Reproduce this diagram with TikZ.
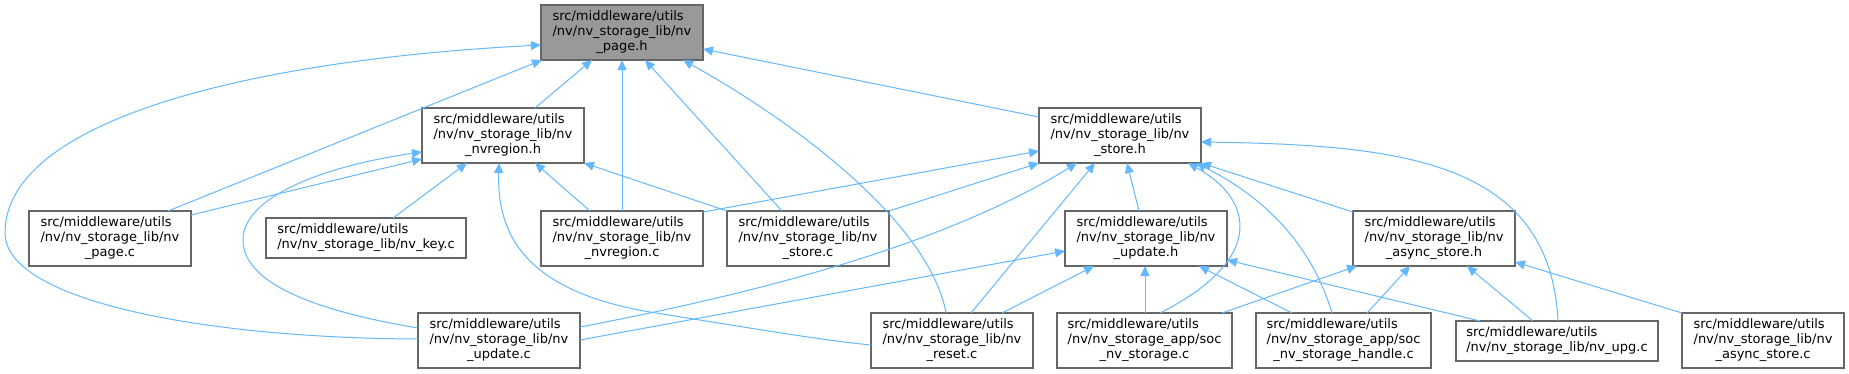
\documentclass[tikz,border=0pt]{standalone}
\usepackage{fontspec}
\setmainfont{DejaVu Sans}
\usetikzlibrary{calc,arrows.meta}
\definecolor{edgec}{HTML}{63B8FF}
\definecolor{boxc}{HTML}{666666}
\definecolor{topc}{HTML}{999999}
\newcommand{\lblthree}[3]{\begin{tabular}{@{}l@{}}#1\\#2\\\multicolumn{1}{@{}c@{}}{#3}\end{tabular}}
\newcommand{\lbltwo}[2]{\begin{tabular}{@{}l@{}}#1\\#2\end{tabular}}
\begin{document}
\begin{tikzpicture}[x=1pt,y=-1pt,
  box/.style={draw=boxc, line width=1.2pt, fill=white, inner sep=0pt, outer sep=0pt,
    minimum width=162pt, minimum height=55pt, font=\fontsize{13}{15}\selectfont, text=black},
  twoline/.style={minimum height=40pt},
  edge/.style={draw=edgec, line width=1pt, -{Triangle[length=10pt,width=9pt]}}]
\useasboundingbox (0,0) rectangle (1849,373);

% row 0
\node[box, fill=topc] (A) at (622,32.5) {\lblthree{src/middleware/utils}{/nv/nv\_storage\_lib/nv}{\_page.h}};
% row 1
\node[box] (B) at (503,135.5) {\lblthree{src/middleware/utils}{/nv/nv\_storage\_lib/nv}{\_nvregion.h}};
\node[box] (C) at (1120,135.5) {\lblthree{src/middleware/utils}{/nv/nv\_storage\_lib/nv}{\_store.h}};
% row 2
\node[box] (D) at (110,238.5) {\lblthree{src/middleware/utils}{/nv/nv\_storage\_lib/nv}{\_page.c}};
\node[box, twoline, minimum width=200pt] (E) at (366,238) {\lbltwo{src/middleware/utils}{/nv/nv\_storage\_lib/nv\_key.c}};
\node[box] (F) at (622,238.5) {\lblthree{src/middleware/utils}{/nv/nv\_storage\_lib/nv}{\_nvregion.c}};
\node[box] (G) at (808,238.5) {\lblthree{src/middleware/utils}{/nv/nv\_storage\_lib/nv}{\_store.c}};
\node[box] (H) at (1146,238.5) {\lblthree{src/middleware/utils}{/nv/nv\_storage\_lib/nv}{\_update.h}};
\node[box] (I) at (1434,238.5) {\lblthree{src/middleware/utils}{/nv/nv\_storage\_lib/nv}{\_async\_store.h}};
% row 3
\node[box] (J) at (499,340.5) {\lblthree{src/middleware/utils}{/nv/nv\_storage\_lib/nv}{\_update.c}};
\node[box] (K) at (952,340.5) {\lblthree{src/middleware/utils}{/nv/nv\_storage\_lib/nv}{\_reset.c}};
\node[box, minimum width=175pt] (L) at (1144.5,340.5) {\lblthree{src/middleware/utils}{/nv/nv\_storage\_app/soc}{\_nv\_storage.c}};
\node[box, minimum width=175pt] (M) at (1343.5,340.5) {\lblthree{src/middleware/utils}{/nv/nv\_storage\_app/soc}{\_nv\_storage\_handle.c}};
\node[box, twoline, minimum width=202pt] (N) at (1557,341) {\lbltwo{src/middleware/utils}{/nv/nv\_storage\_lib/nv\_upg.c}};
\node[box] (O) at (1763,340.5) {\lblthree{src/middleware/utils}{/nv/nv\_storage\_lib/nv}{\_async\_store.c}};

% edges into A
\draw[edge] ($(B.north west)+(113,0)$) -- ($(A.south west)+(51,0)$);
\draw[edge] (F.north) -- (A.south);
\draw[edge] ($(G.north west)+(55,0)$) -- ($(A.south west)+(104,0)$);
\draw[edge] ($(K.north west)+(75,0)$) .. controls (930,225) and (800,125) .. ($(A.south west)+(142,0)$);
\draw[edge] ($(C.north west)+(0,9)$) -- ($(A.north east)+(0,44)$);
\draw[edge] ($(D.north west)+(139,0)$) -- ($(A.south west)+(1,0)$);
\draw[edge] ($(J.north west)+(0,26)$) .. controls (200,338) and (5,300) .. (5,233)
  .. controls (5,120) and (250,60) .. ($(A.north west)+(0,40)$);

% edges into B
\draw[edge] ($(J.north west)+(0,15)$) .. controls (340,315) and (243,290) .. (243,240)
  .. controls (243,195) and (330,165) .. ($(B.north west)+(0,44)$);
\draw[edge] ($(K.north west)+(0,32)$) .. controls (820,340) and (750,328) .. (650,312)
  .. controls (520,290) and (497,230) .. ($(B.south west)+(77,0)$);
\draw[edge] ($(D.north east)+(0,4)$) -- ($(B.north west)+(0,51)$);
\draw[edge] ($(E.north west)+(127,0)$) -- ($(B.south west)+(45,0)$);
\draw[edge] ($(F.north west)+(49,0)$) -- ($(B.south west)+(113,0)$);
\draw[edge] (G.north west) -- (B.south east);

% edges into C
\draw[edge] ($(F.north east)+(0,1)$) -- ($(C.north west)+(0,43)$);
\draw[edge] (G.north east) -- (C.south west);
\draw[edge] ($(J.north east)+(0,14)$) .. controls (800,285) and (960,235) .. ($(C.south west)+(38,0)$);
\draw[edge] ($(K.north west)+(100,0)$) -- ($(C.south west)+(56,0)$);
\draw[edge] ($(H.north west)+(74,0)$) -- ($(C.south west)+(88,0)$);
\draw[edge] ($(I.north west)+(0,1)$) -- (C.south east);
\draw[edge] ($(L.north west)+(103,0)$) .. controls (1265,260) and (1255,200) .. ($(C.south west)+(149,0)$);
\draw[edge] ($(M.north west)+(76,0)$) .. controls (1310,240) and (1260,195) .. ($(C.south west)+(157,0)$);
\draw[edge] ($(N.north west)+(102,0)$) .. controls (1550,160) and (1400,145) .. ($(C.north east)+(0,34)$);

% edges into H
\draw[edge] ($(J.north east)+(0,27)$) -- ($(H.north west)+(0,40)$);
\draw[edge] ($(K.north west)+(131,0)$) -- ($(H.south west)+(29,0)$);
\draw[edge] ($(L.north west)+(88,0)$) -- ($(H.south west)+(80,0)$);
\draw[edge] ($(M.north west)+(36,0)$) -- ($(H.south west)+(134,0)$);
\draw[edge] ($(N.north west)+(24,0)$) -- ($(H.north east)+(0,49)$);

% edges into I
\draw[edge] ($(L.north west)+(165,0)$) -- ($(I.south west)+(4,0)$);
\draw[edge] ($(M.north west)+(111,0)$) -- ($(I.south west)+(57,0)$);
\draw[edge] ($(N.north west)+(77,0)$) -- ($(I.south west)+(114,0)$);
\draw[edge] (O.north west) -- ($(I.north east)+(0,51)$);
\end{tikzpicture}
\end{document}
